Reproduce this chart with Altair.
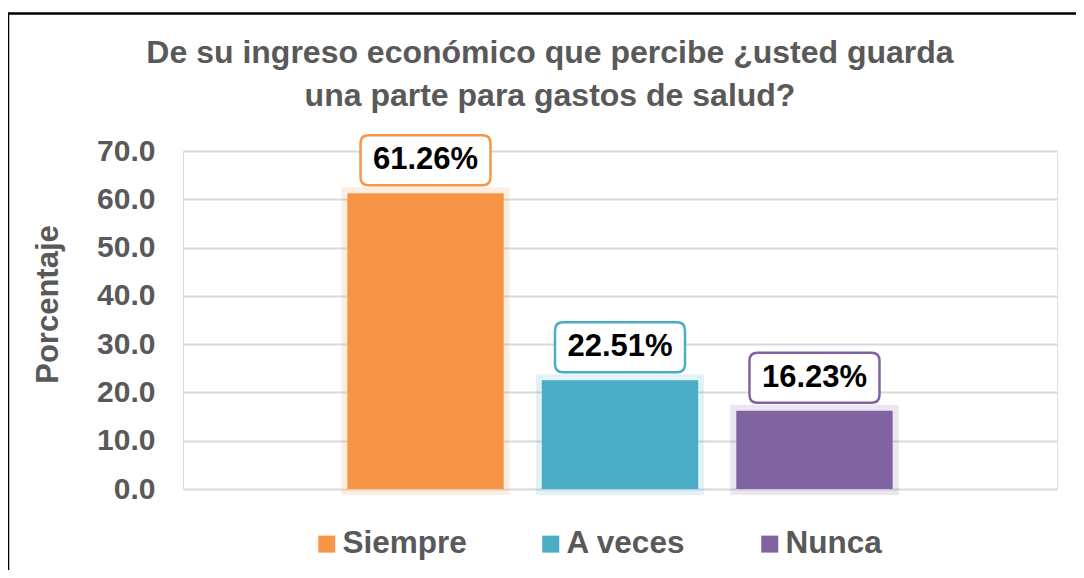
import altair as alt
import pandas as pd

categories = ["Siempre", "A veces", "Nunca"]
values = [61.26, 22.51, 16.23]
labels = ["61.26%", "22.51%", "16.23%"]
colors = ["#F79646", "#4BACC6", "#8064A2"]
y_ticks = [0, 10, 20, 30, 40, 50, 60, 70]
title_lines = ["De su ingreso económico que percibe ¿usted guarda", "una parte para gastos de salud?"]

df = pd.DataFrame({"cat": categories, "val": values, "lab": labels})

W, H = 874, 338
FONT = "Liberation Sans"
GRAY = "#595959"

xenc = alt.X("cat:N", sort=categories, axis=None,
             scale=alt.Scale(paddingInner=0.196, paddingOuter=0.845))
yenc = alt.Y("val:Q", scale=alt.Scale(domain=[0, 70], nice=False),
             axis=alt.Axis(values=y_ticks, format=".1f", title="Porcentaje",
                           grid=True, gridColor="#D9D9D9", gridWidth=2,
                           domain=False, ticks=False,
                           labelFont=FONT, labelFontSize=30, labelFontWeight="bold",
                           labelColor=GRAY, labelPadding=28,
                           titleFont=FONT, titleFontSize=31, titleFontWeight="bold",
                           titleColor=GRAY, titleX=-135, titleY=153,
                           titleBaseline="middle"))
cenc = alt.Color("cat:N", sort=categories,
                 scale=alt.Scale(domain=categories, range=colors),
                 legend=alt.Legend(orient="none", legendX=128, legendY=377,
                                   direction="horizontal", title=None,
                                   symbolType="square", symbolSize=289,
                                   symbolStrokeWidth=0,
                                   labelFont=FONT, labelFontSize=31.5,
                                   labelFontWeight="bold", labelColor=GRAY,
                                   columnPadding=68, labelOffset=0))

base = alt.Chart(df)

bars = base.mark_bar().encode(x=xenc, y=yenc, color=cenc)
glow = base.mark_bar(filled=False, strokeWidth=12, strokeOpacity=0.16).encode(
    x=xenc, y=yenc, color=cenc)

h = 50 / 130
c = 8 / 65
box_path = (f"M {-1 + c},{-h} L {1 - c},{-h} Q 1,{-h} 1,{-h + c} "
            f"L 1,{h - c} Q 1,{h} {1 - c},{h} L {-1 + c},{h} "
            f"Q -1,{h} -1,{h - c} L -1,{-h + c} Q -1,{-h} {-1 + c},{-h} Z")
boxes = base.mark_point(shape=box_path, size=130 * 130, filled=False,
                        fill="white", fillOpacity=1, strokeWidth=2.5,
                        opacity=1, yOffset=-33).encode(x=xenc, y=yenc, color=cenc)
texts = base.mark_text(dy=-33, fontSize=31, fontWeight="bold", font=FONT,
                       color="black", baseline="middle").encode(
    x=xenc, y=yenc, text="lab:N")

border = alt.Chart(pd.DataFrame({"a": [0]})).mark_rect(
    fill=None, stroke="black", strokeWidth=2.5).encode(
    x=alt.value(8 - 183), x2=alt.value(1100 - 183),
    y=alt.value(13.5 - 151), y2=alt.value(620 - 151))

chart = alt.layer(border, bars, glow, boxes, texts).properties(
    width=W, height=H,
    title=alt.TitleParams(title_lines, font=FONT, fontSize=32, fontWeight="bold",
                          color=GRAY, anchor="middle", dx=-70, lineHeight=43,
                          offset=-101),
    autosize=alt.AutoSizeParams(type="none"),
    padding={"left": 175, "top": 143, "right": 19, "bottom": 81},
).configure_view(stroke=None).configure(background="white")

chart.save("out.html", embed_options={"renderer": "svg", "actions": False})
